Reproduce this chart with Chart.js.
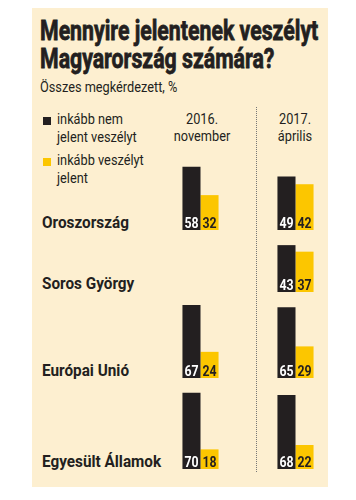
<!DOCTYPE html>
<html>
<head>
<meta charset="utf-8">
<script src="https://cdn.jsdelivr.net/npm/chart.js@4/dist/chart.umd.min.js"></script>
<style>
  html,body{margin:0;padding:0;background:#fff;width:356px;height:500px;overflow:hidden;}
  body{position:relative;font-family:Roboto,"Liberation Sans",sans-serif;color:#231f20;}
  #panel{position:absolute;left:32px;top:8px;width:296px;height:479px;background:#fdefd0;}
  .t{position:absolute;white-space:nowrap;line-height:1;transform-origin:0 0;}
  .title{font-size:28px;font-weight:700;-webkit-text-stroke:0.8px #231f20;transform:scaleX(0.76);left:40px;}
  .reg{font-size:15px;font-weight:400;transform:scaleX(0.85);}
  .hdr{font-size:15px;font-weight:400;transform:translateX(-50%) scaleX(0.85);transform-origin:50% 0;text-align:center;}
  .row{font-size:17px;font-weight:700;transform:scaleX(0.9);left:42px;}
  .sq{position:absolute;width:8px;height:8px;left:43px;}
  #sep{position:absolute;left:256px;top:107px;height:365px;border-left:1px dotted #777;}
  canvas{position:absolute;}
</style>
</head>
<body>
<div id="panel"></div>
<div id="sep"></div>
<script>
// ---- data ----
const titleLines = ['Mennyire jelentenek veszélyt', 'Magyarország számára?'];
const subtitle = 'Összes megkérdezett, %';
const categories = ['Oroszország', 'Soros György', 'Európai Unió', 'Egyesült Államok'];
const periods = [['2016.', 'november'], ['2017.', 'április']];
const seriesNames = [['inkább nem', 'jelent veszélyt'], ['inkább veszélyt', 'jelent']];
const notThreat2016 = [58, null, 67, 70];
const threat2016   = [32, null, 24, 18];
const notThreat2017 = [49, 43, 65, 68];
const threat2017   = [42, 37, 29, 22];

// ---- styles / layout ----
const colors = ['#231f20', '#fcc600'];
const labelColors = ['#ffffff', '#231f20'];
const pxPerUnit = 1.09;
const rowBoxes = [ {top:150, h:80, label:213.7}, {top:232, h:60, label:274.7}, {top:296, h:82, label:361.7}, {top:385, h:84, label:452.7} ];
const chartLeft = 153, chartWidth = 190;

function addText(cls, txt, left, top) {
  const d = document.createElement('div');
  d.className = 't ' + cls;
  d.textContent = txt;
  if (left !== null) d.style.left = left + 'px';
  d.style.top = top + 'px';
  document.body.appendChild(d);
  return d;
}

addText('title', titleLines[0], null, 16.5);
addText('title', titleLines[1], null, 44.5);
addText('reg', subtitle, 40, 79.5);

// legend
const legTops = [[112.4, 130.4], [153.4, 171.4]];
const sqTops = [117, 158];
seriesNames.forEach((lines, i) => {
  const s = document.createElement('div');
  s.className = 'sq';
  s.style.top = sqTops[i] + 'px';
  s.style.background = colors[i];
  document.body.appendChild(s);
  lines.forEach((ln, j) => addText('reg', ln, 57, legTops[i][j]));
});

// column headers
const hdrX = [202, 295];
periods.forEach((p, i) => {
  addText('hdr', p[0], hdrX[i], 112.4);
  addText('hdr', p[1], hdrX[i], 129.4);
});

// value label plugin
const valueLabels = {
  id: 'valueLabels',
  afterDatasetsDraw(chart) {
    const ctx = chart.ctx;
    chart.data.datasets.forEach((ds, di) => {
      const meta = chart.getDatasetMeta(di);
      meta.data.forEach((el, i) => {
        const v = ds.data[i];
        if (v === null || v === undefined) return;
        ctx.save();
        ctx.translate(el.x, el.base - 2);
        ctx.scale(0.82, 1);
        ctx.font = 'bold 15px Roboto, "Liberation Sans", sans-serif';
        ctx.fillStyle = labelColors[di];
        ctx.textAlign = 'center';
        ctx.textBaseline = 'alphabetic';
        ctx.fillText(String(v), 0, 0);
        ctx.restore();
      });
    });
  }
};

categories.forEach((cat, r) => {
  const box = rowBoxes[r];
  addText('row', cat, null, box.label);
  const cv = document.createElement('canvas');
  cv.width = chartWidth; cv.height = box.h;
  cv.style.left = chartLeft + 'px';
  cv.style.top = box.top + 'px';
  cv.style.width = chartWidth + 'px';
  cv.style.height = box.h + 'px';
  document.body.appendChild(cv);
  new Chart(cv, {
    type: 'bar',
    data: {
      labels: periods.map(p => p.join(' ')),
      datasets: [
        { label: seriesNames[0].join(' '), data: [notThreat2016[r], notThreat2017[r]], backgroundColor: colors[0] },
        { label: seriesNames[1].join(' '), data: [threat2016[r], threat2017[r]], backgroundColor: colors[1] }
      ]
    },
    options: {
      responsive: false,
      animation: false,
      devicePixelRatio: 1,
      layout: { padding: 0 },
      datasets: { bar: { barPercentage: 1, categoryPercentage: 0.38, borderWidth: 0 } },
      plugins: { legend: { display: false }, tooltip: { enabled: false } },
      scales: {
        x: { display: false },
        y: { display: false, min: 0, max: box.h / pxPerUnit }
      }
    },
    plugins: [valueLabels]
  });
});
</script>
</body>
</html>
